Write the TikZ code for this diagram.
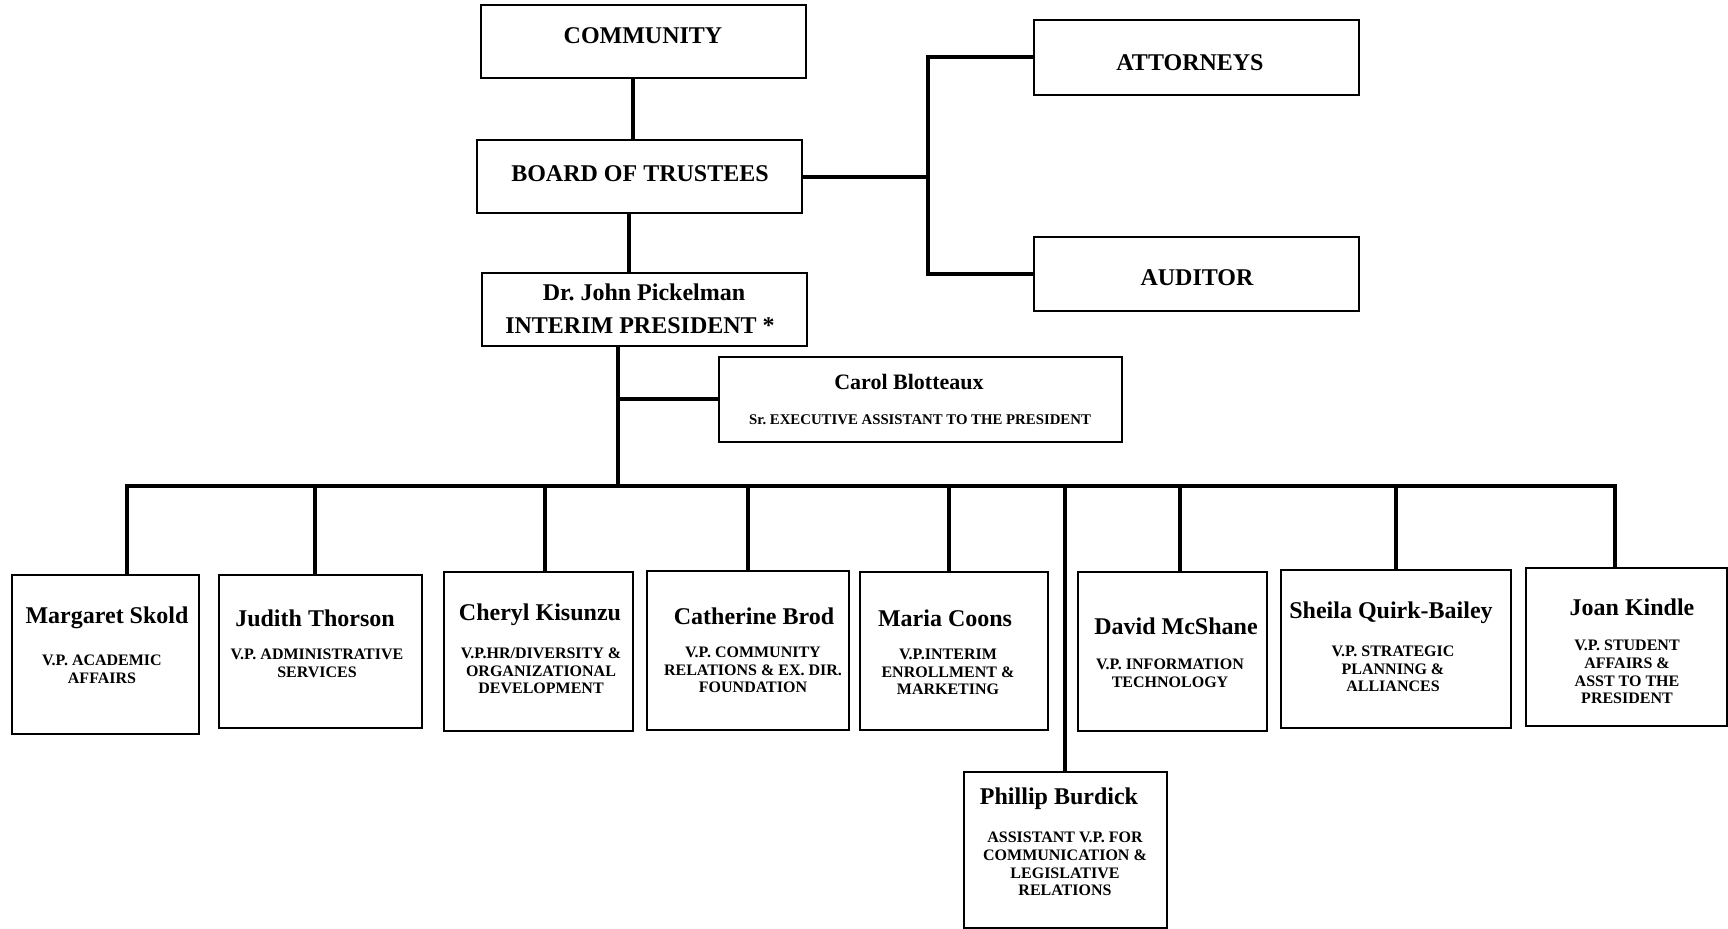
\documentclass[tikz,border=0pt]{standalone}
\usepackage{fontspec}
\setmainfont{Liberation Serif}
\usepackage{tikz}
\usetikzlibrary{positioning,calc}

\begin{document}
\begin{tikzpicture}[
  x=0.5pt,y=-0.5pt,
  font=\bfseries,
  box/.style={draw=black,line width=1pt,inner sep=0pt},
  topbox/.style={box,minimum width=162.5pt,minimum height=36.5pt},
  vpbox/.style={box,minimum width=#1,minimum height=79pt},
  conn/.style={line width=2pt},
  bigtxt/.style={font=\fontsize{12}{14}\selectfont\bfseries,inner sep=0pt},
  subtxt/.style={font=\fontsize{8}{8.85}\selectfont\bfseries,align=center,inner sep=0pt}
]
\useasboundingbox (0,0) rectangle (1728,929);

% governance
\node[topbox] (community) at (643,41.5) {};
\node[bigtxt] (community-t) at (643,36) {COMMUNITY};
\node[topbox] (board) at (639.5,177) {};
\node[bigtxt] (board-t) at (640,174) {BOARD OF TRUSTEES};
\node[topbox] (pres) at (644.5,309.5) {};
\node[bigtxt] (pres-n) at (644,292) {Dr.\ John Pickelman};
\node[bigtxt] (pres-t) at (640,326) {INTERIM PRESIDENT *};
\node[topbox,minimum height=37.5pt] (attorneys) at (1196.5,57.5) {};
\node[bigtxt] (attorneys-t) at (1190,63) {ATTORNEYS};
\node[topbox,minimum height=37pt] (auditor) at (1196.5,274) {};
\node[bigtxt] (auditor-t) at (1197,278) {AUDITOR};
\node[box,minimum width=201.5pt,minimum height=42.5pt] (carol) at (920.5,399.5) {};
\node[font=\fontsize{11}{13}\selectfont\bfseries,inner sep=0pt] (carol-n) at (909,382) {Carol Blotteaux};
\node[font=\fontsize{7.4}{9}\selectfont\bfseries,inner sep=0pt] (carol-t) at (920,420) {Sr.\ EXECUTIVE ASSISTANT TO THE PRESIDENT};

\coordinate (split) at (928,177);
\draw[conn] (community.south -| 633,0) -- (board.north -| 633,0);
\draw[conn] (board.south -| 629,0) -- (pres.north -| 629,0);
\draw[conn] (board.east) -- (split);
\draw[conn] (attorneys.west) -| (split) |- (auditor.west);

% vice presidents
\node[vpbox=93.5pt,minimum height=79.5pt] (skold) at (105.5,654.5) {};
\node[bigtxt] (skold-n) at (107,618) {Margaret Skold};
\node[subtxt] (skold-t) at (102,669) {V.P. ACADEMIC\\AFFAIRS};

\node[vpbox=101.5pt,minimum height=76.5pt] (thorson) at (320.5,651.5) {};
\node[bigtxt] (thorson-n) at (315,618) {Judith Thorson};
\node[subtxt] (thorson-t) at (317,663.5) {V.P. ADMINISTRATIVE\\SERVICES};

\node[vpbox=94.5pt,minimum height=79.5pt] (kisunzu) at (538.5,651.5) {};
\node[bigtxt] (kisunzu-n) at (540,615) {Cheryl Kisunzu};
\node[subtxt] (kisunzu-t) at (541,671) {V.P.HR/DIVERSITY \&\\ORGANIZATIONAL\\DEVELOPMENT};

\node[vpbox=101pt,minimum height=79.5pt] (brod) at (748,650.5) {};
\node[bigtxt] (brod-n) at (754,616) {Catherine Brod};
\node[subtxt] (brod-t) at (753,670) {V.P. COMMUNITY\\RELATIONS \& EX. DIR.\\FOUNDATION};

\node[vpbox=94pt] (coons) at (954,651) {};
\node[bigtxt] (coons-n) at (945,618) {Maria Coons};
\node[subtxt] (coons-t) at (948,672) {V.P.INTERIM\\ENROLLMENT \&\\MARKETING};

\node[vpbox=94.5pt,minimum height=79.5pt] (mcshane) at (1172.5,651.5) {};
\node[bigtxt] (mcshane-n) at (1176,626) {David McShane};
\node[subtxt] (mcshane-t) at (1170,673.5) {V.P. INFORMATION\\TECHNOLOGY};

\node[vpbox=115pt] (quirk) at (1396,649) {};
\node[bigtxt] (quirk-n) at (1391,613) {Sheila Quirk-Bailey};
\node[subtxt] (quirk-t) at (1393,669) {V.P. STRATEGIC\\PLANNING \&\\ALLIANCES};

\node[vpbox=100.5pt] (kindle) at (1626.5,647) {};
\node[bigtxt] (kindle-n) at (1632,607) {Joan Kindle};
\node[subtxt] (kindle-t) at (1627,672) {V.P. STUDENT\\AFFAIRS \&\\ASST TO THE\\PRESIDENT};

\node[vpbox=101.5pt,minimum height=78pt] (burdick) at (1065.5,850) {};
\node[bigtxt] (burdick-n) at (1059,799) {Phillip Burdick};
\node[subtxt] (burdick-t) at (1065,864) {ASSISTANT V.P. FOR\\COMMUNICATION \&\\LEGISLATIVE\\RELATIONS};

% president to the bus
\coordinate (pdrop) at (618,486);
\coordinate (busL) at (127,486);
\coordinate (busR) at (1615,486);
\draw[conn] (pres.south -| pdrop) -- (pdrop);
\draw[conn] (carol.west) -- (carol.west -| pdrop);
\draw[conn] (skold.north -| busL) -- (busL) -- (busR) -- (kindle.north -| busR);
\foreach \n/\x in {thorson/315,kisunzu/545,brod/748,coons/949,burdick/1065,mcshane/1180,quirk/1396}
  \draw[conn] (\x,486) -- (\n.north -| \x,0);
\end{tikzpicture}
\end{document}
